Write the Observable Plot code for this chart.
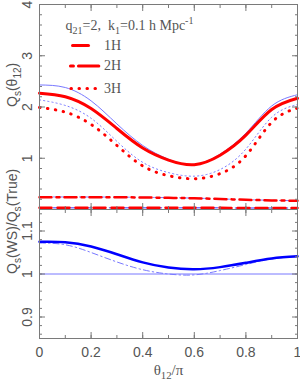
<!DOCTYPE html>
<html><head><meta charset="utf-8">
<script src="https://cdn.jsdelivr.net/npm/d3@7"></script>
<script src="https://cdn.jsdelivr.net/npm/@observablehq/plot@0.6"></script>
<style>
body{margin:0;background:#fff}
#c{position:relative;width:300px;height:386px;overflow:hidden}
#c svg{position:absolute;left:0;overflow:visible}
</style>
</head><body><div id="c"></div>
<script>
// ---------- data ----------
const theta   = [0, 0.1, 0.2, 0.3, 0.4, 0.5, 0.6, 0.7, 0.8, 0.9, 1.0];
const qs1H    = [2.27, 2.20, 1.97, 1.58, 1.20, 0.965, 0.875, 1.06, 1.45, 1.95, 2.17];
const qsTrue1 = [2.43, 2.38, 2.12, 1.67, 1.25, 0.98, 0.88, 1.08, 1.49, 2.02, 2.24];
const qs2H    = [0.24, 0.24, 0.24, 0.238, 0.235, 0.228, 0.22, 0.205, 0.19, 0.178, 0.17];
const qsTrue2 = [0.245, 0.245, 0.244, 0.242, 0.238, 0.231, 0.222, 0.207, 0.192, 0.18, 0.172];
const qs3H    = [1.99, 1.90, 1.66, 1.25, 0.85, 0.66, 0.60, 0.70, 1.05, 1.70, 1.98];
const qsTrue3 = [2.14, 2.03, 1.78, 1.33, 0.92, 0.72, 0.65, 0.78, 1.18, 1.80, 2.05];
const qsLow   = [0.033, 0.033, 0.033, 0.033, 0.032, 0.032, 0.032, 0.032, 0.031, 0.031, 0.031];
const ratio1  = [1.075, 1.074, 1.064, 1.046, 1.027, 1.015, 1.011, 1.016, 1.026, 1.036, 1.041];
const ratio3  = [1.072, 1.068, 1.050, 1.028, 1.010, 1.000, 0.998, 1.008, 1.022, 1.035, 1.040];
const unity   = [1];
const xTicks      = [0, 0.2, 0.4, 0.6, 0.8, 1];
const xMinorTicks = [0, 0.1, 0.2, 0.3, 0.4, 0.5, 0.6, 0.7, 0.8, 0.9, 1];
const yTopTicks   = [1, 2, 3, 4];
const yTopMinor   = d3.range(0, 4.001, 0.2);
const yBotTicks   = [0.9, 1, 1.1];
const yBotMinor   = d3.range(0.86, 1.141, 0.02);
const legendLabels = ["1H", "2H", "3H"];
const annotation = "q_{21}=2,  k_{1}=0.1 h Mpc^{-1}";
const yTitleTop = "Q_{s}(\u03b8_{12})";
const yTitleBot = "Q_{s}(WS)/Q_{s}(True)";
const xTitle = "\u03b8_{12}/\u03c0";

// ---------- style ----------
const RED = "#ff0000", BLUE = "#0000ff", LBLUE = "#7878ff", GRAY = "#7a7a7a", TXT = "#555";
const SANS = "Liberation Sans, Arial, sans-serif", SERIF = "Liberation Serif, Times New Roman, serif";

const rows = arr => theta.map((t, i) => ({t, v: arr[i]}));
const line = (arr, o) => Plot.line(rows(arr), {x: "t", y: "v", curve: "natural", ...o});
const blank = () => "";
const fmt = d => String(+d.toFixed(3));
function frameTicks(xMaj, xMin, yMaj, yMin) {
  return [
    Plot.axisX({anchor: "top", ticks: xMin, tickSize: -3, tickFormat: blank, color: GRAY, label: null}),
    Plot.axisX({anchor: "top", ticks: xMaj, tickSize: -6, tickFormat: blank, color: GRAY, label: null}),
    Plot.axisX({anchor: "bottom", ticks: xMin, tickSize: -3, tickFormat: blank, color: GRAY, label: null}),
    Plot.axisX({anchor: "bottom", ticks: xMaj, tickSize: -6, tickFormat: blank, color: GRAY, label: null}),
    Plot.axisY({anchor: "left", ticks: yMin, tickSize: -3, tickFormat: blank, color: GRAY, label: null}),
    Plot.axisY({anchor: "left", ticks: yMaj, tickSize: -6, tickFormat: blank, color: GRAY, label: null}),
    Plot.axisY({anchor: "right", ticks: yMin, tickSize: -3, tickFormat: blank, color: GRAY, label: null}),
    Plot.axisY({anchor: "right", ticks: yMaj, tickSize: -6, tickFormat: blank, color: GRAY, label: null}),
    Plot.axisY({anchor: "left", ticks: yMaj, tickSize: 0, tickPadding: 8, tickRotate: -90, fontSize: 14,
                fill: TXT, fontFamily: SANS, label: null, tickFormat: fmt})
  ];
}

// legend rows in data units of top panel
const legY = [3.2, 2.8, 2.36];
const legend = [
  Plot.line([{t: 0.128, v: legY[0]}, {t: 0.19, v: legY[0]}], {x: "t", y: "v", stroke: RED, strokeWidth: 3}),
  Plot.line([{t: 0.12, v: legY[1]}, {t: 0.23, v: legY[1]}], {x: "t", y: "v", stroke: RED, strokeWidth: 3, strokeDasharray: "3,5,20,0"}),
  Plot.line([{t: 0.122, v: legY[2]}, {t: 0.235, v: legY[2]}], {x: "t", y: "v", stroke: RED, strokeWidth: 3,
    strokeDasharray: "0.5,7.5", strokeLinecap: "round"}),
  Plot.text(legendLabels, {x: () => 0.25, y: (d, i) => legY[i], text: d => d, textAnchor: "start",
    lineAnchor: "middle", fontFamily: SERIF, fontSize: 14, fill: TXT})
];

const topPlot = Plot.plot({
  width: 300, height: 210,
  marginLeft: 39, marginRight: 3, marginTop: 4, marginBottom: 1,
  x: {domain: [0, 1]}, y: {domain: [0, 4]},
  style: {fontFamily: SANS, overflow: "visible", background: "transparent"},
  marks: [
    line(qsTrue1, {stroke: LBLUE, strokeWidth: 1}),
    line(qsTrue3, {stroke: LBLUE, strokeWidth: 1, strokeDasharray: "1.2,3"}),
    line(qsTrue2, {stroke: LBLUE, strokeWidth: 1, strokeDasharray: "10,4,2,4"}),
    line(qsLow, {stroke: LBLUE, strokeWidth: 1.5, strokeDasharray: "10,4"}),
    line(qs1H, {stroke: RED, strokeWidth: 3}),
    line(qs3H, {stroke: RED, strokeWidth: 3, strokeDasharray: "0.5,7.5", strokeLinecap: "round"}),
    line(qs2H, {stroke: RED, strokeWidth: 2.5, strokeDasharray: "12,5,3,5"}),
    line(qsLow, {stroke: RED, strokeWidth: 2.5, strokeDasharray: "12,6"}),
    Plot.frame({stroke: GRAY}),
    ...frameTicks(xTicks, xMinorTicks, yTopTicks, yTopMinor),
    Plot.text([annotation], {frameAnchor: "top-left", lineAnchor: "bottom", dx: 26, dy: 25, textAnchor: "start",
      fontFamily: SERIF, fontSize: 14, fill: TXT}),
    ...legend,
    Plot.text([yTitleTop], {frameAnchor: "left", dx: -27, rotate: -90, fontFamily: SANS, fontSize: 14, fill: TXT})
  ]
});

const botPlot = Plot.plot({
  width: 300, height: 177,
  marginLeft: 39, marginRight: 3, marginTop: 0, marginBottom: 48,
  x: {domain: [0, 1]}, y: {domain: [0.85, 1.15]},
  style: {fontFamily: SANS, overflow: "visible", background: "transparent"},
  marks: [
    Plot.ruleY(unity, {stroke: LBLUE, strokeWidth: 1}),
    line(ratio3, {stroke: LBLUE, strokeWidth: 1, strokeDasharray: "6,3,1.5,3"}),
    line(ratio1, {stroke: BLUE, strokeWidth: 2.5}),
    Plot.frame({stroke: GRAY}),
    ...frameTicks(xTicks, xMinorTicks, yBotTicks, yBotMinor),
    Plot.axisX({anchor: "bottom", ticks: xTicks, tickSize: 0, tickPadding: 9, fontSize: 14,
      fill: TXT, fontFamily: SANS, label: null, tickFormat: fmt}),
    Plot.text([yTitleBot], {frameAnchor: "left", dx: -27, rotate: -90, fontFamily: SANS, fontSize: 14, fill: TXT}),
    Plot.text([xTitle], {frameAnchor: "bottom", dy: 36, fontFamily: SERIF, fontSize: 15, fill: TXT})
  ]
});

topPlot.style.top = "0px";
botPlot.style.top = "209px";
const container = document.getElementById("c");
container.appendChild(topPlot);
container.appendChild(botPlot);

// rich text: _{sub} and ^{sup} -> tspans
function rich(svg) {
  svg.querySelectorAll("text").forEach(t => {
    const s = t.textContent;
    if (!/[_^]\{/.test(s)) return;
    const parts = [];
    const re = /([_^])\{([^}]*)\}/g;
    let last = 0, m;
    while ((m = re.exec(s))) {
      if (m.index > last) parts.push({k: "n", s: s.slice(last, m.index)});
      parts.push({k: m[1] === "_" ? "sub" : "sup", s: m[2]});
      last = re.lastIndex;
    }
    if (last < s.length) parts.push({k: "n", s: s.slice(last)});
    const fs = parseFloat(t.getAttribute("font-size") || getComputedStyle(t).fontSize) || 14;
    const target = (t.children.length === 1 && t.children[0].tagName === "tspan") ? t.children[0] : t;
    while (target.firstChild) target.removeChild(target.firstChild);
    let shift = 0;
    for (const p of parts) {
      const ts = document.createElementNS("http://www.w3.org/2000/svg", "tspan");
      const want = p.k === "sub" ? fs * 0.3 : p.k === "sup" ? -fs * 0.4 : 0;
      if (want !== shift) ts.setAttribute("dy", String(want - shift));
      shift = want;
      if (p.k !== "n") ts.setAttribute("font-size", String(fs * 0.72));
      ts.textContent = p.s;
      target.appendChild(ts);
    }
  });
}
rich(topPlot); rich(botPlot);
</script></body></html>
